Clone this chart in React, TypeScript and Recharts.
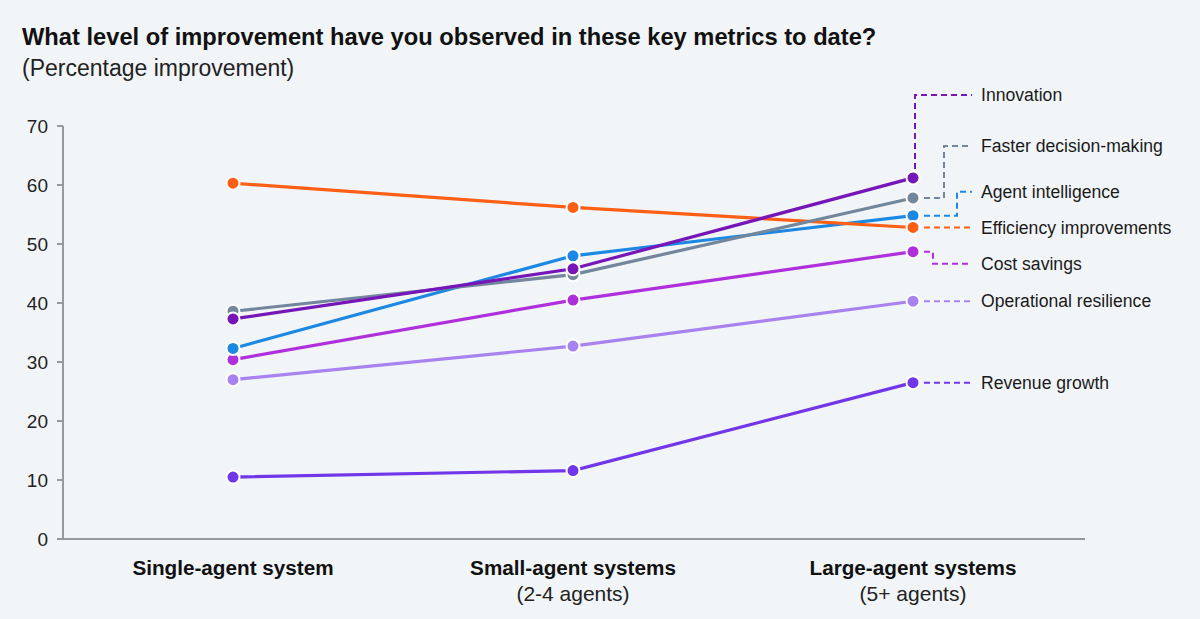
import React from 'react';
import { LineChart, Line, XAxis, YAxis } from 'recharts';

// Categories along the x-axis
const categories = ['Single-agent system', 'Small-agent systems', 'Large-agent systems'];
const categoryNotes = ['', '(2-4 agents)', '(5+ agents)'];
const yTicks = [0, 10, 20, 30, 40, 50, 60, 70];

// Percentage improvement per metric, one value per category
const revenueGrowth = [10.5, 11.6, 26.5];
const operationalResilience = [27.0, 32.7, 40.3];
const costSavings = [30.4, 40.5, 48.7];
const agentIntelligence = [32.3, 48.0, 54.8];
const efficiencyImprovements = [60.3, 56.2, 52.8];
const fasterDecisionMaking = [38.6, 44.8, 57.8];
const innovation = [37.3, 45.8, 61.2];

const series = [
  { key: 'revenue', name: 'Revenue growth', values: revenueGrowth, color: '#7036E8' },
  { key: 'resilience', name: 'Operational resilience', values: operationalResilience, color: '#A882EE' },
  { key: 'cost', name: 'Cost savings', values: costSavings, color: '#B02FDD' },
  { key: 'intelligence', name: 'Agent intelligence', values: agentIntelligence, color: '#1B88E3' },
  { key: 'efficiency', name: 'Efficiency improvements', values: efficiencyImprovements, color: '#FF5F14' },
  { key: 'decision', name: 'Faster decision-making', values: fasterDecisionMaking, color: '#72869C' },
  { key: 'innovation', name: 'Innovation', values: innovation, color: '#7615B8' },
];

// Leader-line routing for the end labels (pixel offsets from the last point)
const leaderLayout: Record<string, { elbow: number; dy: number; up?: boolean }> = {
  revenue: { elbow: 0, dy: 0 },
  resilience: { elbow: 0, dy: 0 },
  cost: { elbow: 20, dy: 12 },
  intelligence: { elbow: 44, dy: -24 },
  efficiency: { elbow: 0, dy: 0 },
  decision: { elbow: 31, dy: -52 },
  innovation: { elbow: 2, dy: -83, up: true },
};

const data = categories.map((name, i) => {
  const row: Record<string, string | number> = { name, note: categoryNotes[i] };
  series.forEach((s) => {
    row[s.key] = s.values[i];
  });
  return row;
});

const FONT = '"Liberation Sans", Arial, Helvetica, sans-serif';
const LABEL_X = 68;

function makeLeaderLabel(s: (typeof series)[number]) {
  return (props: any) => {
    const { x, y, index } = props;
    if (index !== data.length - 1 || x == null || y == null) return null;
    const lay = leaderLayout[s.key];
    const textX = x + LABEL_X;
    const endX = textX - 9;
    let d: string;
    if (lay.up) {
      d = `M ${x + lay.elbow} ${y - 9} V ${y + lay.dy} H ${endX}`;
    } else if (lay.dy === 0) {
      d = `M ${x + 11} ${y} H ${endX}`;
    } else {
      d = `M ${x + 11} ${y} H ${x + lay.elbow} V ${y + lay.dy} H ${endX}`;
    }
    return (
      <g key={`leader-${s.key}`}>
        <path d={d} fill="none" stroke={s.color} strokeWidth={2} strokeDasharray="6 4" />
        <text
          x={textX}
          y={y + lay.dy}
          dy="0.35em"
          fontFamily={FONT}
          fontSize={17.6}
          fill="#1a1a1a"
        >
          {s.name}
        </text>
      </g>
    );
  };
}

const CategoryTick = (props: any) => {
  const { x, y, payload, index } = props;
  const note = categoryNotes[index] ?? '';
  return (
    <g transform={`translate(${x},${y})`}>
      <text x={0} y={21} dy="0.35em" textAnchor="middle" fontFamily={FONT} fontSize={20.7} fontWeight="bold" fill="#111">
        {payload.value}
      </text>
      {note ? (
        <text x={0} y={47} dy="0.35em" textAnchor="middle" fontFamily={FONT} fontSize={21} fill="#222">
          {note}
        </text>
      ) : null}
    </g>
  );
};

export default function App() {
  return (
    <div
      style={{
        position: 'absolute',
        left: 0,
        top: 0,
        width: 1200,
        height: 619,
        background: '#F2F5F8',
        fontFamily: FONT,
        overflow: 'hidden',
      }}
    >
      <div style={{ position: 'absolute', left: 22, top: 25, fontSize: 23.7, lineHeight: '24px', fontWeight: 'bold', color: '#111', whiteSpace: 'nowrap' }}>
        What level of improvement have you observed in these key metrics to date?
      </div>
      <div style={{ position: 'absolute', left: 22, top: 57, fontSize: 23, lineHeight: '23px', color: '#222', whiteSpace: 'nowrap' }}>
        (Percentage improvement)
      </div>
      <div style={{ position: 'absolute', left: 0, top: 0 }}>
        <LineChart
          width={1200}
          height={619}
          data={data}
          margin={{ top: 126, right: 115, bottom: 0, left: 0 }}
        >
          <XAxis
            dataKey="name"
            padding={{ left: 170, right: 172 }}
            tickLine={false}
            axisLine={{ stroke: '#999', strokeWidth: 2 }}
            tick={<CategoryTick />}
            interval={0}
            height={80}
          />
          <YAxis
            width={63}
            domain={[0, 70]}
            ticks={yTicks}
            interval={0}
            tickSize={6}
            tickMargin={9}
            axisLine={{ stroke: '#999', strokeWidth: 2 }}
            tickLine={{ stroke: '#999', strokeWidth: 2 }}
            tick={{ fontFamily: FONT, fontSize: 19, fill: '#222' }}
          />
          {series.map((s) => (
            <Line
              key={s.key}
              dataKey={s.key}
              name={s.name}
              type="linear"
              stroke={s.color}
              strokeWidth={3.2}
              dot={{ r: 6.5, fill: s.color, stroke: '#fff', strokeWidth: 2 }}
              activeDot={false}
              isAnimationActive={false}
              label={makeLeaderLabel(s)}
            />
          ))}
        </LineChart>
      </div>
    </div>
  );
}
